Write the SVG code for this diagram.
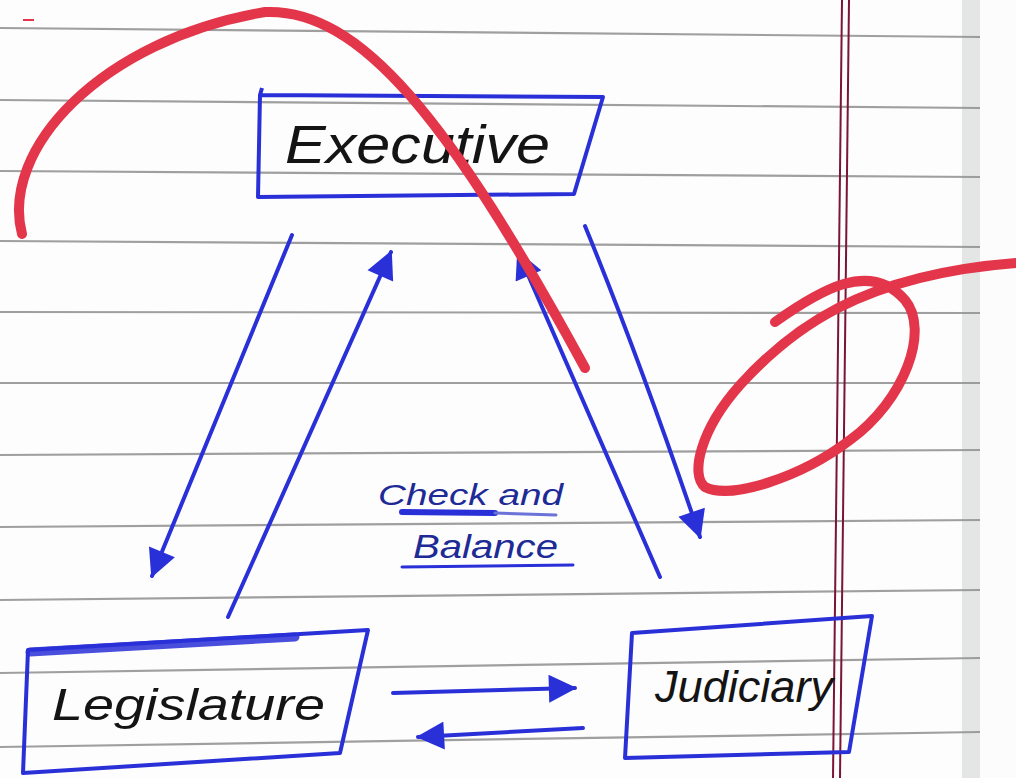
<svg xmlns="http://www.w3.org/2000/svg" width="1016" height="778" viewBox="0 0 1016 778">
<defs>
<style>
.rule{stroke:#8e8e8e;stroke-width:2.2;fill:none;opacity:0.85}
.margin{stroke:#7a1535;stroke-width:2;fill:none}
.box{fill:none;stroke:#2a30d8;stroke-width:4;stroke-linejoin:round}
.ink{stroke:#2a30d8;stroke-width:4;fill:none;stroke-linecap:round}
.lbl{font-family:"Liberation Sans",Arial,sans-serif;font-style:italic;fill:#141414}
.cb{font-family:"Liberation Sans",Arial,sans-serif;font-style:italic;fill:#1e2a96}
.red{stroke:#e3364b;stroke-width:10;fill:none;stroke-linecap:round}
</style>
<marker id="ah" viewBox="0 0 30 30" refX="28" refY="15" markerWidth="30" markerHeight="28" markerUnits="userSpaceOnUse" orient="auto">
<path d="M0,0 L30,15 L0,30 Z" fill="#2a30d8"/>
</marker>
</defs>
<rect x="0" y="0" width="1016" height="778" fill="#fdfdfd"/>
<g id="paper">
<rect x="962" y="0" width="18" height="778" fill="#e4e6e6"/>
<rect x="980" y="0" width="36" height="778" fill="#fcfcfc"/>
<path class="rule" d="M0,28 L980,37"/>
<path class="rule" d="M0,100 L980,108"/>
<path class="rule" d="M0,171 L980,177"/>
<path class="rule" d="M0,241 L980,247"/>
<path class="rule" d="M0,312 L980,313"/>
<path class="rule" d="M0,383 L980,383"/>
<path class="rule" d="M0,455 L980,450"/>
<path class="rule" d="M0,527 L980,520"/>
<path class="rule" d="M0,600 L980,590"/>
<path class="rule" d="M0,673 L980,658"/>
<path class="rule" d="M0,747 L980,732"/>
<path class="margin" d="M842,0 L833,778"/>
<path class="margin" d="M849,0 L840,778"/>
<path d="M23,20 L34,20" stroke="#e3364b" stroke-width="2"/>
</g>
<g id="executive">
<path class="box" d="M262,88 L260,95 L603,97 L574,194 L258,197 L260,95"/>
<text class="lbl" x="285" y="163" font-size="54" textLength="265" lengthAdjust="spacingAndGlyphs">Executive</text>
</g>
<g id="legislature">
<path class="box" d="M28,650 L368,630 L340,753 L23,773 Z"/>
<path d="M30,652 L295,637" stroke="#2a30d8" stroke-width="9" stroke-linecap="round" opacity="0.85"/>
<text class="lbl" x="52" y="720" font-size="44" textLength="273" lengthAdjust="spacingAndGlyphs">Legislature</text>
</g>
<g id="judiciary">
<path class="box" d="M632,633 L872,616 L849,752 L625,758 Z"/>
<text class="lbl" x="655" y="702" font-size="44" textLength="178" lengthAdjust="spacingAndGlyphs">Judiciary</text>
</g>
<g id="check-balance">
<text class="cb" x="378" y="505" font-size="30" textLength="185" lengthAdjust="spacingAndGlyphs">Check and</text>
<text class="cb" x="413" y="558" font-size="34" textLength="145" lengthAdjust="spacingAndGlyphs">Balance</text>
<path d="M402,512 L495,513" stroke="#2a30d8" stroke-width="6" stroke-linecap="round"/>
<path d="M495,513 L556,515" stroke="#6b72d8" stroke-width="3" stroke-linecap="round"/>
<path d="M402,567 L573,565" stroke="#2a30d8" stroke-width="3" stroke-linecap="round"/>
</g>
<g id="connectors">
<path class="ink" d="M292,235 L152,576" marker-end="url(#ah)"/>
<path class="ink" d="M228,617 L391,252" marker-end="url(#ah)"/>
<path class="ink" d="M660,577 L518,252" marker-end="url(#ah)"/>
<path class="ink" d="M585,226 Q640,360 700,537" marker-end="url(#ah)"/>
<path class="ink" d="M393,693 L575,688" marker-end="url(#ah)"/>
<path class="ink" d="M583,728 L418,737" marker-end="url(#ah)"/>
</g>
<g id="annotations">
<path class="red" d="M22,234 C0,150 100,40 265,12 C360,8 450,120 585,368"/>
<path class="red" d="M775,322 C820,290 870,260 905,300 C930,330 905,400 850,440 C800,478 730,500 705,487 C690,475 700,430 740,385 C790,330 860,275 1016,263"/>
</g>
</svg>
